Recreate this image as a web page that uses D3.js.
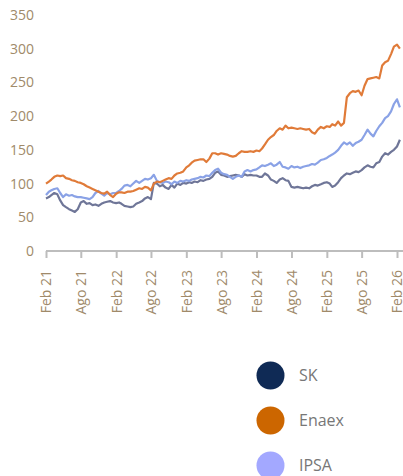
<!DOCTYPE html>
<html>
<head>
<meta charset="utf-8">
<script src="https://cdn.jsdelivr.net/npm/d3@7"></script>
<style>
  body { margin: 0; background: #fff; }
  svg text { font-family: "Open Sans", sans-serif; }
</style>
</head>
<body>
<div class="chart"></div>
<script>
let FRAME_WIDTH = 403;
let FRAME_HEIGHT = 476;
let PLOT = {left: 46, right: 397, top: 15, bottom: 251};

// series names and colours
const seriesNames = ["SK", "Enaex", "IPSA"];
const legendColors = ["#0f2a55", "#cc6600", "#a3a8ff"];
const lineColors = ["#6f7698", "#e07b39", "#8aa2e6"];

// values read every half month, from Feb 21 to mid Feb 26
const skValues = [78, 80, 83, 86, 84, 75, 68, 65, 62, 60, 58, 62, 72, 74, 70, 71, 68, 69, 67, 70,
  72, 73, 74, 72, 71, 72, 70, 67, 66, 65, 66, 70, 72, 74, 78, 80, 77, 101, 100, 96,
  98, 94, 92, 98, 94, 100, 98, 101, 100, 102, 101, 103, 102, 105, 104, 106, 107, 110, 116, 118,
  113, 112, 110, 111, 112, 113, 112, 110, 114, 112, 113, 112, 112, 110, 110, 115, 112, 106, 104, 101,
  106, 108, 105, 104, 95, 94, 95, 94, 93, 94, 93, 96, 98, 97, 99, 101, 102, 100, 95, 97,
  102, 108, 112, 115, 114, 116, 118, 117, 120, 124, 127, 125, 124, 130, 132, 140, 145, 143, 147, 150,
  155, 165];

const enaexValues = [100, 103, 106, 110, 112, 111, 112, 108, 107, 105, 104, 102, 101, 99, 96, 94, 92, 90, 88, 86,
  85, 88, 83, 80, 85, 87, 87, 86, 88, 88, 89, 91, 93, 92, 95, 94, 90, 100, 103, 102,
  104, 106, 108, 107, 112, 115, 116, 118, 124, 127, 131, 134, 135, 136, 136, 132, 137, 145, 145, 143,
  145, 144, 143, 141, 140, 141, 145, 148, 147, 147, 148, 147, 149, 148, 152, 158, 165, 169, 172, 178,
  182, 180, 186, 182, 183, 182, 181, 182, 181, 180, 181, 176, 174, 180, 184, 182, 185, 184, 188, 186,
  192, 186, 190, 228, 234, 237, 236, 238, 231, 245, 255, 256, 257, 258, 256, 275, 280, 282, 292, 303,
  306, 300];

const ipsaValues = [83, 88, 90, 92, 93, 86, 80, 84, 82, 83, 81, 80, 80, 79, 78, 77, 80, 86, 89, 85,
  82, 86, 84, 86, 86, 89, 92, 97, 98, 96, 100, 104, 101, 104, 107, 106, 108, 113, 104, 102,
  101, 103, 102, 99, 103, 101, 104, 103, 105, 104, 106, 107, 108, 110, 109, 112, 111, 116, 120, 122,
  116, 114, 113, 110, 107, 110, 112, 110, 118, 120, 118, 120, 121, 124, 127, 126, 128, 130, 126, 128,
  132, 125, 124, 122, 126, 124, 125, 123, 125, 126, 127, 129, 128, 131, 135, 136, 138, 141, 143, 146,
  150, 156, 161, 158, 161, 156, 160, 162, 165, 172, 180, 174, 170, 178, 185, 190, 197, 200, 207, 218,
  225, 213];

const yTicks = [0, 50, 100, 150, 200, 250, 300, 350];
const xTickLabels = ["Feb 21", "Ago 21", "Feb 22", "Ago 22", "Feb 23", "Ago 23",
                     "Feb 24", "Ago 24", "Feb 25", "Ago 25", "Feb 26"];

// half-month sampling grid
const START = new Date(2021, 1, 1);
function halfMonth(k) {
  return new Date(2021, 1 + Math.floor(k / 2), k % 2 === 0 ? 1 : 16);
}
const dates = skValues.map((v, i) => halfMonth(i));
const xTickDates = xTickLabels.map((d, i) => d3.timeMonth.offset(START, i * 6));

let FRAME = d3.select(".chart")
  .append("svg")
  .attr("width", FRAME_WIDTH)
  .attr("height", FRAME_HEIGHT);

const X_SCALE = d3.scaleTime()
  .domain([xTickDates[0], xTickDates[xTickDates.length - 1]])
  .range([PLOT.left, PLOT.right]);

const Y_SCALE = d3.scaleLinear()
  .domain([0, 350])
  .range([PLOT.bottom, PLOT.top]);

// y axis: labels only
let yAxis = FRAME.append("g")
  .attr("transform", "translate(" + (PLOT.left - 12) + ",0)")
  .call(d3.axisLeft(Y_SCALE).tickValues(yTicks).tickSize(0).tickPadding(0));
yAxis.select(".domain").remove();
yAxis.selectAll("text")
  .attr("fill", "#a08a6a")
  .style("font-size", "14px");

// x axis
let xAxis = FRAME.append("g")
  .attr("transform", "translate(0," + PLOT.bottom + ")")
  .call(d3.axisBottom(X_SCALE)
    .tickValues(xTickDates)
    .tickSize(7)
    .tickSizeOuter(0)
    .tickFormat((d, i) => xTickLabels[i]));
xAxis.select(".domain")
  .attr("stroke", "#bdbdbd")
  .attr("stroke-width", 2)
  .attr("d", "M" + PLOT.left + ",0H" + (FRAME_WIDTH));
xAxis.selectAll(".tick line")
  .attr("stroke", "#bdbdbd")
  .attr("stroke-width", 2);
xAxis.selectAll("text")
  .attr("fill", "#a08a6a")
  .style("font-size", "14px")
  .attr("transform", "rotate(-90)")
  .attr("text-anchor", "end")
  .attr("x", -19)
  .attr("y", 0)
  .attr("dy", "0.35em");

// lines
const allValues = [skValues, enaexValues, ipsaValues];
const line = d3.line()
  .x((d) => X_SCALE(d.date))
  .y((d) => Y_SCALE(d.value));

// draw IPSA and SK below Enaex like the reference
[0, 2, 1].forEach((s) => {
  let pts = allValues[s].map((v, i) => ({date: dates[i], value: v}));
  FRAME.append("path")
    .datum(pts)
    .attr("fill", "none")
    .attr("stroke", lineColors[s])
    .attr("stroke-width", 2.2)
    .attr("stroke-linejoin", "round")
    .attr("d", line);
});

// legend
let legend = FRAME.append("g");
seriesNames.forEach((name, i) => {
  legend.append("circle")
    .attr("cx", 270.5)
    .attr("cy", 375.5 + i * 45)
    .attr("r", 14)
    .attr("fill", legendColors[i]);
  legend.append("text")
    .attr("x", 299)
    .attr("y", 375.5 + i * 45)
    .attr("dy", "0.35em")
    .attr("fill", "#777777")
    .style("font-size", "16px")
    .text(name);
});
</script>
</body>
</html>
